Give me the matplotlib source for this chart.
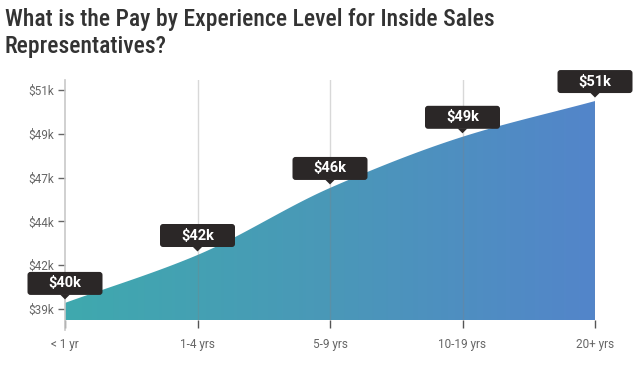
import numpy as np
import matplotlib
matplotlib.use("Agg")
import matplotlib.pyplot as plt
from matplotlib import font_manager as fm
from matplotlib.patches import FancyBboxPatch, Polygon
import matplotlib.transforms as mtransforms
from matplotlib.colors import LinearSegmentedColormap

# ---------------- data ----------------
categories = ["< 1 yr", "1-4 yrs", "5-9 yrs", "10-19 yrs", "20+ yrs"]
pay = [39540, 42220, 45970, 48830, 50830]
point_labels = ["$40k", "$42k", "$46k", "$49k", "$51k"]
ytick_values = [39200, 41650, 44100, 46550, 49000, 51450]
ytick_labels = ["$39k", "$42k", "$44k", "$47k", "$49k", "$51k"]
title = "What is the Pay by Experience Level for Inside Sales\nRepresentatives?"

# ---------------- fonts ----------------
available = {f.name for f in fm.fontManager.ttflist}
base = "Roboto" if "Roboto" in available else "DejaVu Sans"
if "Roboto Condensed" in available:
    title_font, title_size, title_weight = "Roboto Condensed", 17, "medium"
elif "Liberation Sans Narrow" in available:
    title_font, title_size, title_weight = "Liberation Sans Narrow", 17, "bold"
else:
    title_font, title_size, title_weight = base, 15, "medium"

W, H, DPI = 642, 366, 100
fig = plt.figure(figsize=(W / DPI, H / DPI), dpi=DPI)
left_px, right_px, top_px, bottom_px = 65, 595, 80, 320
ax = fig.add_axes([left_px / W, 1 - bottom_px / H,
                   (right_px - left_px) / W, (bottom_px - top_px) / H])

x = np.arange(len(categories), dtype=float)
y = np.array(pay, dtype=float)

# monotone cubic (Fritsch-Carlson) curve through the data points
def pchip(xk, yk, xs):
    h = np.diff(xk)
    d = np.diff(yk) / h
    m = np.zeros_like(yk)
    m[1:-1] = np.where(d[:-1] * d[1:] > 0,
                       2 * d[:-1] * d[1:] / (d[:-1] + d[1:]), 0)
    m[0] = d[0]
    m[-1] = d[-1]
    out = np.empty_like(xs)
    idx = np.clip(np.searchsorted(xk, xs) - 1, 0, len(xk) - 2)
    for i, xv in enumerate(xs):
        k = idx[i]
        t = (xv - xk[k]) / h[k]
        h00 = 2 * t**3 - 3 * t**2 + 1
        h10 = t**3 - 2 * t**2 + t
        h01 = -2 * t**3 + 3 * t**2
        h11 = t**3 - t**2
        out[i] = h00 * yk[k] + h10 * h[k] * m[k] + h01 * yk[k + 1] + h11 * h[k] * m[k + 1]
    return out

xs = np.linspace(x[0], x[-1], 400)
ys = pchip(x, y, xs)

ymin, ymax = 38585, 52007

# gradient fill clipped to the area
cmap = LinearSegmentedColormap.from_list("g", ["#3fa9ae", "#4a98b8", "#5385ca"])
grad = np.linspace(0, 1, 256).reshape(1, -1)
im = ax.imshow(grad, extent=[x[0], x[-1], ymin, ymax], aspect="auto",
               cmap=cmap, origin="lower", zorder=1)
verts = np.vstack([[x[0], ymin], np.column_stack([xs, ys]), [x[-1], ymin], [x[0], ymin]])
poly = Polygon(verts, closed=True, facecolor="none", edgecolor="none", transform=ax.transData)
ax.add_patch(poly)
im.set_clip_path(poly)
ax.set_xlim(x[0], x[-1])
ax.set_ylim(ymin, ymax)

# vertical grid lines at categories
for xi in x[1:]:
    ax.axvline(xi, color="#808080", alpha=0.3, lw=1, zorder=2)

# spines / axis
for s in ax.spines.values():
    s.set_visible(False)
ax.plot([x[0], x[0]], [ymin - 560, ymax], color="#c8c8c8", lw=1.2,
        clip_on=False, zorder=3)

ax.set_yticks(ytick_values)
ax.set_yticklabels(ytick_labels)
ax.set_xticks(x)
ax.set_xticklabels(categories)
ax.tick_params(axis="y", length=5, width=1, color="#666666", pad=3,
               labelsize=8.5, labelcolor="#666666")
ax.tick_params(axis="x", length=6, width=1, color="#555555", pad=7,
               labelsize=8.5, labelcolor="#666666")
for lab in ax.get_xticklabels() + ax.get_yticklabels():
    lab.set_fontfamily(base)
xt = ax.xaxis.get_major_ticks()
xt[0].tick1line.set_color("#999999")
xt[-1].tick1line.set_color("#aaaaaa")

# label boxes with pointer (pixel geometry anchored at data points)
bw, bh, gap_tip, tip_h, tip_w = 75, 23, 3.5, 4.5, 10
for xi, yi, lab in zip(x, y, point_labels):
    trans = mtransforms.Affine2D() + mtransforms.ScaledTranslation(xi, yi, ax.transData)
    bottom = gap_tip + tip_h
    box = FancyBboxPatch((-bw / 2, bottom), bw, bh,
                         boxstyle="round,pad=0,rounding_size=3",
                         facecolor="#2b2727", edgecolor="none",
                         transform=trans, clip_on=False, zorder=5)
    ax.add_patch(box)
    tri = Polygon([[-tip_w / 2, bottom + 0.5], [tip_w / 2, bottom + 0.5], [0, gap_tip]],
                  closed=True, facecolor="#2b2727", edgecolor="none",
                  transform=trans, clip_on=False, zorder=5)
    ax.add_patch(tri)
    ax.text(0, bottom + bh / 2, lab, transform=trans, ha="center", va="center",
            color="white", fontsize=10.5, fontweight="bold", family=base,
            zorder=6, clip_on=False)

fig.text(5 / W, 1 - 8 / H, title, ha="left", va="top", fontsize=title_size,
         fontweight=title_weight, color="#333333", family=title_font,
         linespacing=1.25)

fig.savefig("out.png", dpi=DPI)
